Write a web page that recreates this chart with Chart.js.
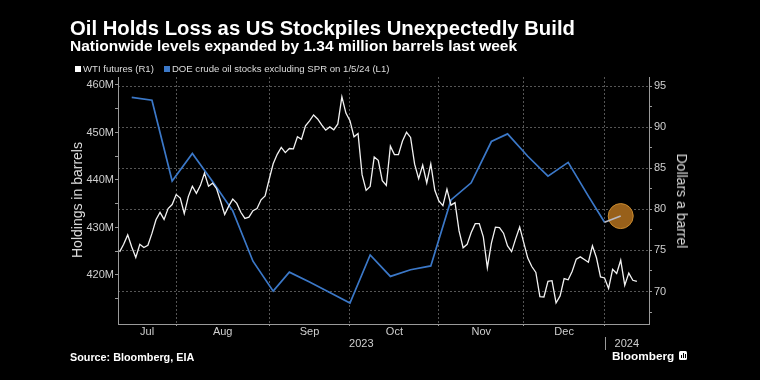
<!DOCTYPE html>
<html><head><meta charset="utf-8">
<script src="https://cdn.jsdelivr.net/npm/chart.js@4.4.1/dist/chart.umd.min.js"></script>
<style>
html,body{margin:0;padding:0;background:#000;width:760px;height:380px;overflow:hidden;font-family:"Liberation Sans",Arial,sans-serif;}
#wrap{position:relative;width:760px;height:380px;}
#c{position:absolute;left:0;top:0;}
.t{position:absolute;white-space:nowrap;}
#title{left:70px;top:18.4px;font-size:20.3px;line-height:20.3px;font-weight:bold;color:#fff;}
#sub{left:70px;top:38.4px;font-size:15.5px;line-height:15.5px;font-weight:bold;color:#fff;}
#legend{left:75px;top:63.5px;font-size:9.6px;line-height:9.6px;color:#ddd;}
.sq{display:inline-block;width:6px;height:6px;margin-right:2px;vertical-align:0px;}
.ax{font-size:14px;line-height:14px;color:#ddd;}
#axl{left:76.5px;top:200px;transform:translate(-50%,-50%) rotate(-90deg);}
#axr{left:681.6px;top:201px;transform:translate(-50%,-50%) rotate(90deg);}
#src{left:70px;top:351.9px;font-size:10.8px;line-height:10.8px;font-weight:bold;color:#fff;}
#bb{left:612px;top:350.8px;font-size:11.8px;line-height:11.8px;font-weight:bold;color:#fff;}
#icon{position:absolute;left:679px;top:351px;width:8px;height:9px;background:#fff;border-radius:1.5px;}
#icon i{position:absolute;bottom:2px;width:1.2px;background:#000;}
</style></head>
<body><div id="wrap">
<canvas id="c" width="760" height="380"></canvas>
<div class="t" id="title">Oil Holds Loss as US Stockpiles Unexpectedly Build</div>
<div class="t" id="sub">Nationwide levels expanded by 1.34 million barrels last week</div>
<div class="t" id="legend"><span class="sq" style="background:#fff"></span>WTI futures (R1)<span class="sq" style="background:#3b78c8;margin-left:10px"></span>DOE crude oil stocks excluding SPR on 1/5/24 (L1)</div>
<div class="t ax" id="axl">Holdings in barrels</div>
<div class="t ax" id="axr">Dollars a barrel</div>
<div class="t" id="src">Source: Bloomberg, EIA</div>
<div class="t" id="bb">Bloomberg</div>
<div id="icon"><i style="left:2px;height:3px"></i><i style="left:3.8px;height:5px"></i><i style="left:5.6px;height:4px"></i></div>
</div>
<script>
// Trading days on the x axis
const dates = [
'2023-07-11','2023-07-12','2023-07-13','2023-07-14','2023-07-17','2023-07-18','2023-07-19','2023-07-20','2023-07-21',
'2023-07-24','2023-07-25','2023-07-26','2023-07-27','2023-07-28','2023-07-31',
'2023-08-01','2023-08-02','2023-08-03','2023-08-04','2023-08-07','2023-08-08','2023-08-09','2023-08-10','2023-08-11',
'2023-08-14','2023-08-15','2023-08-16','2023-08-17','2023-08-18','2023-08-21','2023-08-22','2023-08-23','2023-08-24',
'2023-08-25','2023-08-28','2023-08-29','2023-08-30','2023-08-31',
'2023-09-01','2023-09-05','2023-09-06','2023-09-07','2023-09-08','2023-09-11','2023-09-12','2023-09-13','2023-09-14',
'2023-09-15','2023-09-18','2023-09-19','2023-09-20','2023-09-21','2023-09-22','2023-09-25','2023-09-26','2023-09-27',
'2023-09-28','2023-09-29',
'2023-10-02','2023-10-03','2023-10-04','2023-10-05','2023-10-06','2023-10-09','2023-10-10','2023-10-11','2023-10-12',
'2023-10-13','2023-10-16','2023-10-17','2023-10-18','2023-10-19','2023-10-20','2023-10-23','2023-10-24','2023-10-25',
'2023-10-26','2023-10-27','2023-10-30','2023-10-31',
'2023-11-01','2023-11-02','2023-11-03','2023-11-06','2023-11-07','2023-11-08','2023-11-09','2023-11-10','2023-11-13',
'2023-11-14','2023-11-15','2023-11-16','2023-11-17','2023-11-20','2023-11-21','2023-11-22','2023-11-24','2023-11-27',
'2023-11-28','2023-11-29','2023-11-30',
'2023-12-01','2023-12-04','2023-12-05','2023-12-06','2023-12-07','2023-12-08','2023-12-11','2023-12-12','2023-12-13',
'2023-12-14','2023-12-15','2023-12-18','2023-12-19','2023-12-20','2023-12-21','2023-12-22','2023-12-26','2023-12-27',
'2023-12-28','2023-12-29',
'2024-01-02','2024-01-03','2024-01-04','2024-01-05','2024-01-08','2024-01-09','2024-01-10','2024-01-11','2024-01-12',
'2024-01-16','2024-01-17'
];
// WTI futures, dollars a barrel (one per trading day from the start of dates)
const wti = [
74.83,75.75,76.89,75.42,74.15,75.75,75.35,75.63,77.07,78.74,79.63,78.78,80.09,80.58,81.80,
81.37,79.49,81.55,82.82,81.94,82.92,84.40,82.82,83.19,82.51,80.99,79.38,80.39,81.25,80.72,79.64,78.89,79.05,
79.83,80.10,81.16,81.63,83.63,
85.55,86.69,87.54,86.90,87.40,87.35,88.84,88.52,90.16,90.77,91.48,91.00,90.28,89.63,90.03,89.68,90.39,93.68,
91.71,90.79,
88.82,89.23,84.22,82.31,82.79,86.38,85.97,83.49,82.91,87.69,86.66,86.66,88.32,89.37,88.75,85.49,83.74,85.39,
83.21,85.54,82.31,81.02,
80.44,82.46,80.51,80.82,77.37,75.33,75.74,77.17,78.26,78.26,76.66,72.90,75.89,77.83,77.77,77.10,75.54,74.86,
76.41,77.86,75.96,
74.07,73.04,72.32,69.38,69.34,71.23,71.32,68.61,69.47,71.58,71.43,72.47,73.94,74.22,73.89,73.56,75.57,74.11,
71.77,71.65,
70.38,72.70,72.19,73.81,70.77,72.24,71.37,71.25
];
// DOE crude oil stocks excl. SPR, millions of barrels (weekly)
const doeDates = ['2023-07-14','2023-07-21','2023-07-28','2023-08-04','2023-08-11','2023-08-18','2023-08-25',
'2023-09-01','2023-09-08','2023-09-15','2023-09-22','2023-09-29','2023-10-06','2023-10-13','2023-10-20','2023-10-27',
'2023-11-03','2023-11-10','2023-11-17','2023-11-24','2023-12-01','2023-12-08','2023-12-15','2023-12-22','2023-12-29',
'2024-01-05'];
const doeStocks = [457.4,456.8,439.8,445.6,439.7,433.5,422.9,416.6,420.6,418.5,416.3,414.1,424.2,419.7,421.1,421.9,
435.8,439.4,448.1,449.7,445.0,440.8,443.7,436.6,431.1,432.4];
const monthLabels = ['Jul','Aug','Sep','Oct','Nov','Dec'];
const yearLabels = ['2023','2024'];
const leftTickValues = [415,420,425,430,435,440,445,450,455,460];
const rightTickValues = [67.5,70,72.5,75,77.5,80,82.5,85,87.5,90,92.5,95];

const xMin = -0.4, xMax = 131;
const idx = d => dates.indexOf(d);
// month boundaries: last trading day of each month
const bounds = [];
for (let i = 0; i < dates.length - 1; i++) if (dates[i].slice(0,7) !== dates[i+1].slice(0,7)) bounds.push(i);
const xTicks = [];
bounds.forEach(b => xTicks.push({v:b, kind:'b', label:''}));
monthLabels.forEach((m,k) => { const s = k === 0 ? xMin : bounds[k-1]; xTicks.push({v:(s+bounds[k])/2, kind:'m', label:m}); });
const yb = bounds[bounds.length-1];
xTicks.push({v:(xMin+yb)/2, kind:'y', label:['', yearLabels[0]]});
xTicks.push({v:(yb+xMax)/2, kind:'y', label:['', yearLabels[1]]});
xTicks.sort((a,b)=>a.v-b.v);
const isB = v => bounds.includes(v);

const wtiPts = wti.map((v,i)=>({x:i, y:v}));
const doePts = doeStocks.map((v,i)=>({x:idx(doeDates[i]), y:v}));
const lastN = doeStocks.length - 1;
const hiPts = [{x:idx(doeDates[lastN]), y:doeStocks[lastN]}];

const GRID = '#555', AXIS = '#9a9a9a', TXT = '#cfcfcf';
const tickFont = {family:'"Liberation Sans", Arial, sans-serif', size:11};

const yearSep = {
  id:'yearSep',
  afterDraw(chart){
    const {ctx, scales:{x}, chartArea} = chart;
    const px = Math.round(x.getPixelForValue(yb)) + 0.5;
    ctx.save(); ctx.strokeStyle = AXIS; ctx.lineWidth = 1;
    ctx.beginPath(); ctx.moveTo(px, chartArea.bottom + 13); ctx.lineTo(px, chartArea.bottom + 26); ctx.stroke();
    ctx.restore();
  }
};

new Chart(document.getElementById('c'), {
  type:'line',
  data:{ datasets:[
    {label:'WTI futures (R1)', data:wtiPts, yAxisID:'y1', borderColor:'#f2f2f2', borderWidth:1.3, pointRadius:0, tension:0, order:0},
    {label:'DOE crude oil stocks excluding SPR on 1/5/24 (L1)', data:doePts, yAxisID:'y', borderColor:'#3b78c8', borderWidth:1.7, pointRadius:0, tension:0, order:1,
      segment:{borderColor: c => c.p1DataIndex === lastN ? '#b9b9c2' : undefined}},
    {label:'highlight', data:hiPts, yAxisID:'y', showLine:false, pointRadius:12.5, pointBackgroundColor:'#98601a', pointBorderColor:'#c98a2e', pointBorderWidth:1, order:2}
  ]},
  options:{
    responsive:false, animation:false, events:[],
    layout:{padding:{top:77, left:0, right:0, bottom:0}},
    plugins:{legend:{display:false}, tooltip:{enabled:false}},
    scales:{
      x:{ type:'linear', min:xMin, max:xMax,
        afterBuildTicks: s => { s.ticks = xTicks.map(t=>({value:t.v})); },
        afterFit: s => { s.height = 56; },
        ticks:{ autoSkip:false, maxRotation:0, padding:0, color:TXT, font:{...tickFont, lineHeight:1.1},
          callback:(v,i)=> xTicks[i] ? xTicks[i].label : '' },
        grid:{ color: c => (c.tick && isB(c.tick.value)) ? GRID : 'transparent',
               tickColor: c => (c.tick && isB(c.tick.value)) ? AXIS : 'transparent', tickLength:2, lineWidth:1 },
        border:{ color:AXIS, width:1, dash:[2,2] }
      },
      y:{ type:'linear', position:'left', min:409.68, max:461.68,
        afterBuildTicks: s => { s.ticks = leftTickValues.map(v=>({value:v})); },
        afterFit: s => { s.width = 118; },
        ticks:{ padding:1, color:TXT, font:tickFont, callback: v => v % 10 === 0 ? v + 'M' : '' },
        grid:{ drawOnChartArea:false, tickColor:AXIS, tickLength:3 },
        border:{ color:AXIS, width:1 }
      },
      y1:{ type:'linear', position:'right', min:66.05, max:96.1,
        afterBuildTicks: s => { s.ticks = rightTickValues.map(v=>({value:v})); },
        afterFit: s => { s.width = 111; },
        ticks:{ padding:2, color:TXT, font:tickFont, callback: v => v % 5 === 0 ? String(v) : '' },
        grid:{ color: c => (c.tick && c.tick.value % 5 === 0) ? GRID : 'transparent', tickColor:AXIS, tickLength:3 },
        border:{ color:AXIS, width:1, dash:[2,2] }
      }
    }
  },
  plugins:[yearSep]
});
</script>
</body></html>
